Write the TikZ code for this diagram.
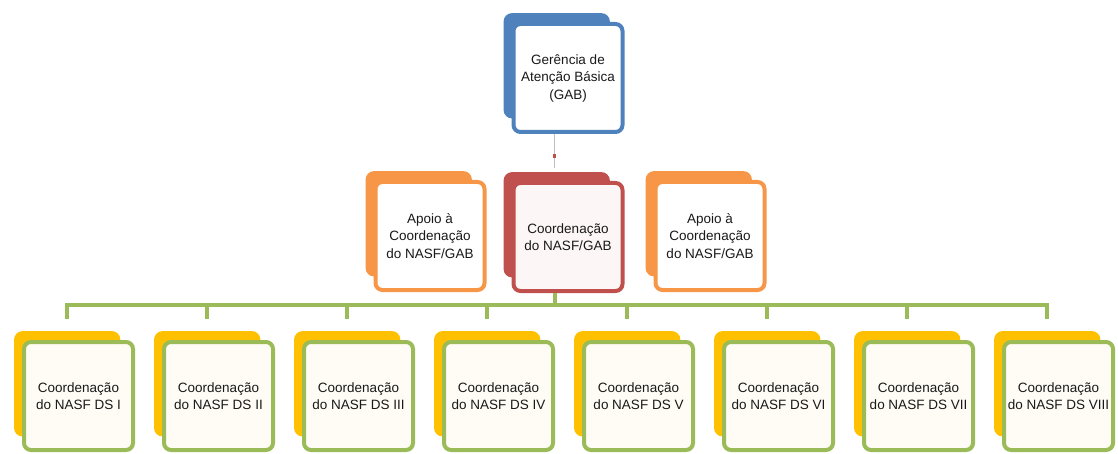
\documentclass[tikz,border=0pt]{standalone}
\usepackage{fontspec}
\setmainfont{Liberation Sans}
\usetikzlibrary{shadows}

\definecolor{gabblue}{HTML}{4F81BD}
\definecolor{nasfred}{HTML}{C0504D}
\definecolor{apoioorange}{HTML}{F79646}
\definecolor{dsgreen}{HTML}{9BBB59}
\definecolor{dsyellow}{HTML}{FFC000}

\tikzset{
  unit/.style={draw=#1, line width=4pt, rounded corners=7pt, minimum width=109pt,
    minimum height=108pt, align=center, text=black!90,
    font=\fontsize{13.5}{17.5}\selectfont},
  back/.style={general shadow={shadow xshift=-12pt, shadow yshift=13pt,
    shadow scale=0.94, fill=#1, draw=#1}},
  link/.style={draw=dsgreen, line width=4pt},
}

\begin{document}
\begin{tikzpicture}[x=1pt,y=-1pt]
\useasboundingbox (0,0) rectangle (1118,454);

% top level
\node[unit=gabblue, back=gabblue, fill=white] (gab) at (568,78) {Gerência de\\Atenção Básica\\(GAB)};

% coordination level
\node[unit=apoioorange, back=apoioorange, fill=white] (apoio1) at (430,236) {Apoio à\\Coordenação\\do NASF/GAB};
\node[unit=nasfred, back=nasfred, fill=nasfred!5] (coord) at (568,237) {Coordenação\\do NASF/GAB};
\node[unit=apoioorange, back=apoioorange, fill=white] (apoio2) at (710,236) {Apoio à\\Coordenação\\do NASF/GAB};

% district level
\node[unit=dsgreen, back=dsyellow, fill=dsyellow!4] (ds1) at (78.5,396) {Coordenação\\do NASF DS I};
\node[unit=dsgreen, back=dsyellow, fill=dsyellow!4] (ds2) at (218.5,396) {Coordenação\\do NASF DS II};
\node[unit=dsgreen, back=dsyellow, fill=dsyellow!4] (ds3) at (358.5,396) {Coordenação\\do NASF DS III};
\node[unit=dsgreen, back=dsyellow, fill=dsyellow!4] (ds4) at (498.5,396) {Coordenação\\do NASF DS IV};
\node[unit=dsgreen, back=dsyellow, fill=dsyellow!4] (ds5) at (638.5,396) {Coordenação\\do NASF DS V};
\node[unit=dsgreen, back=dsyellow, fill=dsyellow!4] (ds6) at (778.5,396) {Coordenação\\do NASF DS VI};
\node[unit=dsgreen, back=dsyellow, fill=dsyellow!4] (ds7) at (918.5,396) {Coordenação\\do NASF DS VII};
\node[unit=dsgreen, back=dsyellow, fill=dsyellow!4] (ds8) at (1058.5,396) {Coordenação\\do NASF DS VIII};

% connectors
\path[draw=gray!50, line width=0.8pt] ([xshift=-14pt]gab.south) -- ([xshift=-14pt,yshift=13pt]coord.north);
\path[draw=nasfred, line width=3pt] ([xshift=-14pt,yshift=-20pt]gab.south) -- ([xshift=-14pt,yshift=-24pt]gab.south);

\coordinate (bus) at (555,305);
\path[link] ([xshift=-13pt]coord.south) -- (bus);
\foreach \i in {1,...,8}
  \path[link] (bus) -| ([xshift=-12pt,yshift=21pt]ds\i.north);
\end{tikzpicture}
\end{document}
